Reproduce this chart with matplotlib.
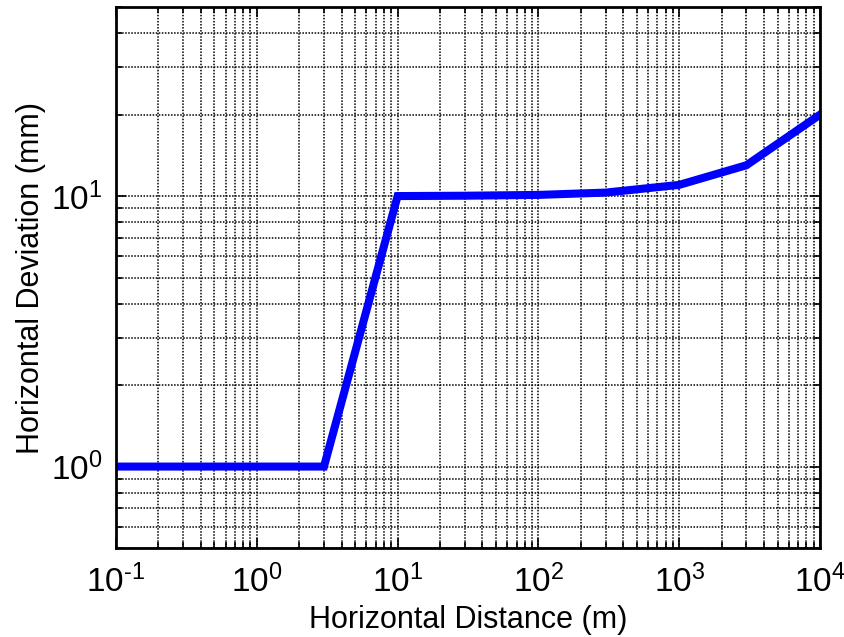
import matplotlib
matplotlib.use("Agg")
import math
import matplotlib.pyplot as plt
from matplotlib.ticker import LogLocator, NullFormatter, FuncFormatter

plt.rcParams['font.family'] = ['Liberation Sans', 'DejaVu Sans']
plt.rcParams['mathtext.fontset'] = 'custom'
plt.rcParams['mathtext.rm'] = 'Liberation Sans'
plt.rcParams['mathtext.it'] = 'Liberation Sans'
plt.rcParams['mathtext.default'] = 'regular'
plt.rcParams['axes.unicode_minus'] = False

distance_m = [0.1, 3, 10, 30, 100, 300, 1000, 3000, 10000]
deviation_mm = [1, 1, 10, 10.03, 10.1, 10.3, 11, 13, 20]


def pow_label(v, pos):
    e = int(round(math.log10(v)))
    if e < 0:
        return r'$10^{\text{-%d}}$' % (-e)
    return r'$10^{%d}$' % e


fig = plt.figure(figsize=(8.45, 6.37), dpi=100)
ax = fig.add_axes([116/845, 1-548/637, (820-116)/845, (548-7)/637])

ax.plot(distance_m, deviation_mm, color=(0, 0, 1), lw=5.8, solid_joinstyle='miter')
ax.set_xscale('log')
ax.set_yscale('log')
ax.set_xlim(0.1, 1e4)
ax.set_ylim(0.5, 50)

ax.xaxis.set_major_locator(LogLocator(base=10, numticks=20))
ax.xaxis.set_minor_locator(LogLocator(base=10, subs=range(2, 10), numticks=50))
ax.yaxis.set_major_locator(LogLocator(base=10, numticks=20))
ax.yaxis.set_minor_locator(LogLocator(base=10, subs=range(2, 10), numticks=50))
ax.xaxis.set_major_formatter(FuncFormatter(pow_label))
ax.yaxis.set_major_formatter(FuncFormatter(pow_label))
ax.xaxis.set_minor_formatter(NullFormatter())
ax.yaxis.set_minor_formatter(NullFormatter())

ax.grid(True, which='both', color='black', linestyle=(0, (1, 1)), linewidth=1.1)
ax.tick_params(which='both', direction='in', top=True, right=True, labelsize=24, width=1.2, colors='black')
ax.tick_params(which='major', length=7)
ax.tick_params(axis='x', which='major', pad=12)
ax.tick_params(axis='y', which='major', pad=10)
ax.tick_params(which='minor', length=4)
for s in ax.spines.values():
    s.set_linewidth(2)
    s.set_color('black')

ax.set_xlabel('Horizontal Distance (m)', fontsize=22, labelpad=4)
ax.set_ylabel('Horizontal Deviation (mm)', fontsize=22, labelpad=3)

fig.savefig('out.png', dpi=100)
